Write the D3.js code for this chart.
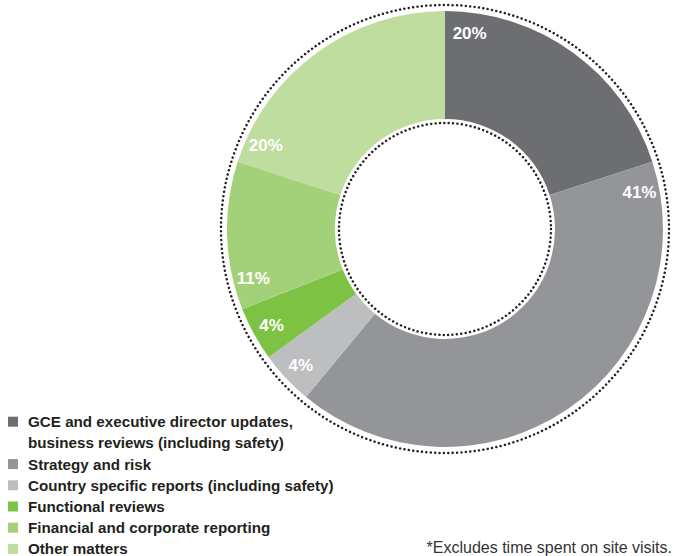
<!DOCTYPE html>
<html><head><meta charset="utf-8">
<script src="https://cdn.jsdelivr.net/npm/d3@7"></script>
<style>body{margin:0;background:#fff}svg{display:block}</style>
</head><body>
<svg id="c" width="673" height="556"></svg>
<script>
const categories = [
  ["GCE and executive director updates,", "business reviews (including safety)"],
  ["Strategy and risk"],
  ["Country specific reports (including safety)"],
  ["Functional reviews"],
  ["Financial and corporate reporting"],
  ["Other matters"]
];
const values = [20, 41, 4, 4, 11, 20];
const labels = ["20%", "41%", "4%", "4%", "11%", "20%"];
const colors = ["#6d6e71", "#939598", "#bcbec0", "#7dc242", "#a3d179", "#bfdd9e"];
const footnote = "*Excludes time spent on site visits.";

const svg = d3.select("#c");
const cx = 445, cy = 229, rOuter = 218, rInner = 110;
const g = svg.append("g").attr("transform", `translate(${cx},${cy})`);

const pie = d3.pie().sort(null).value(d => d);
const arcs = pie(values);
const arc = d3.arc().innerRadius(rInner).outerRadius(rOuter);

g.selectAll("path.s").data(arcs).enter().append("path")
  .attr("class","s").attr("d", arc).attr("fill", (d,i) => colors[i]);

// dotted circles
[224, 106].forEach(r => {
  g.append("circle").attr("r", r).attr("fill","none")
    .attr("stroke","#231f20").attr("stroke-width",2.5)
    .attr("stroke-linecap","round")
    .attr("stroke-dasharray","0.01 4.4");
});

// labels
const lr = 198;
const la = d => Math.min(d.startAngle + 0.125, (d.startAngle+d.endAngle)/2);
g.selectAll("text.p").data(arcs).enter().append("text")
  .attr("class","p")
  .attr("x", d => lr*Math.sin(la(d)))
  .attr("y", d => -lr*Math.cos(la(d)))
  .attr("dy","0.36em")
  .attr("text-anchor","middle")
  .attr("fill","#fff")
  .attr("font-family","Liberation Sans, Arial, sans-serif")
  .attr("font-weight","bold")
  .attr("font-size",17)
  .text((d,i) => labels[i]);

// legend
const lg = svg.append("g");
let row = 0;
const y0 = 421.7, step = 21.2;
categories.forEach((lines, i) => {
  const y = y0 + row*step;
  lg.append("rect").attr("x",8).attr("y", y-5).attr("width",10).attr("height",10).attr("fill", colors[i]);
  lines.forEach((t, j) => {
    lg.append("text").attr("x",28).attr("y", y + j*step).attr("dy","0.36em")
      .attr("font-family","Liberation Sans, Arial, sans-serif")
      .attr("font-weight","bold").attr("font-size",15.2).attr("fill","#231f20")
      .text(t);
  });
  row += lines.length;
});

svg.append("text").attr("x",672).attr("y",553).attr("text-anchor","end")
  .attr("font-family","Liberation Sans, Arial, sans-serif")
  .attr("font-size",16).attr("fill","#333").text(footnote);
</script>
</body></html>
